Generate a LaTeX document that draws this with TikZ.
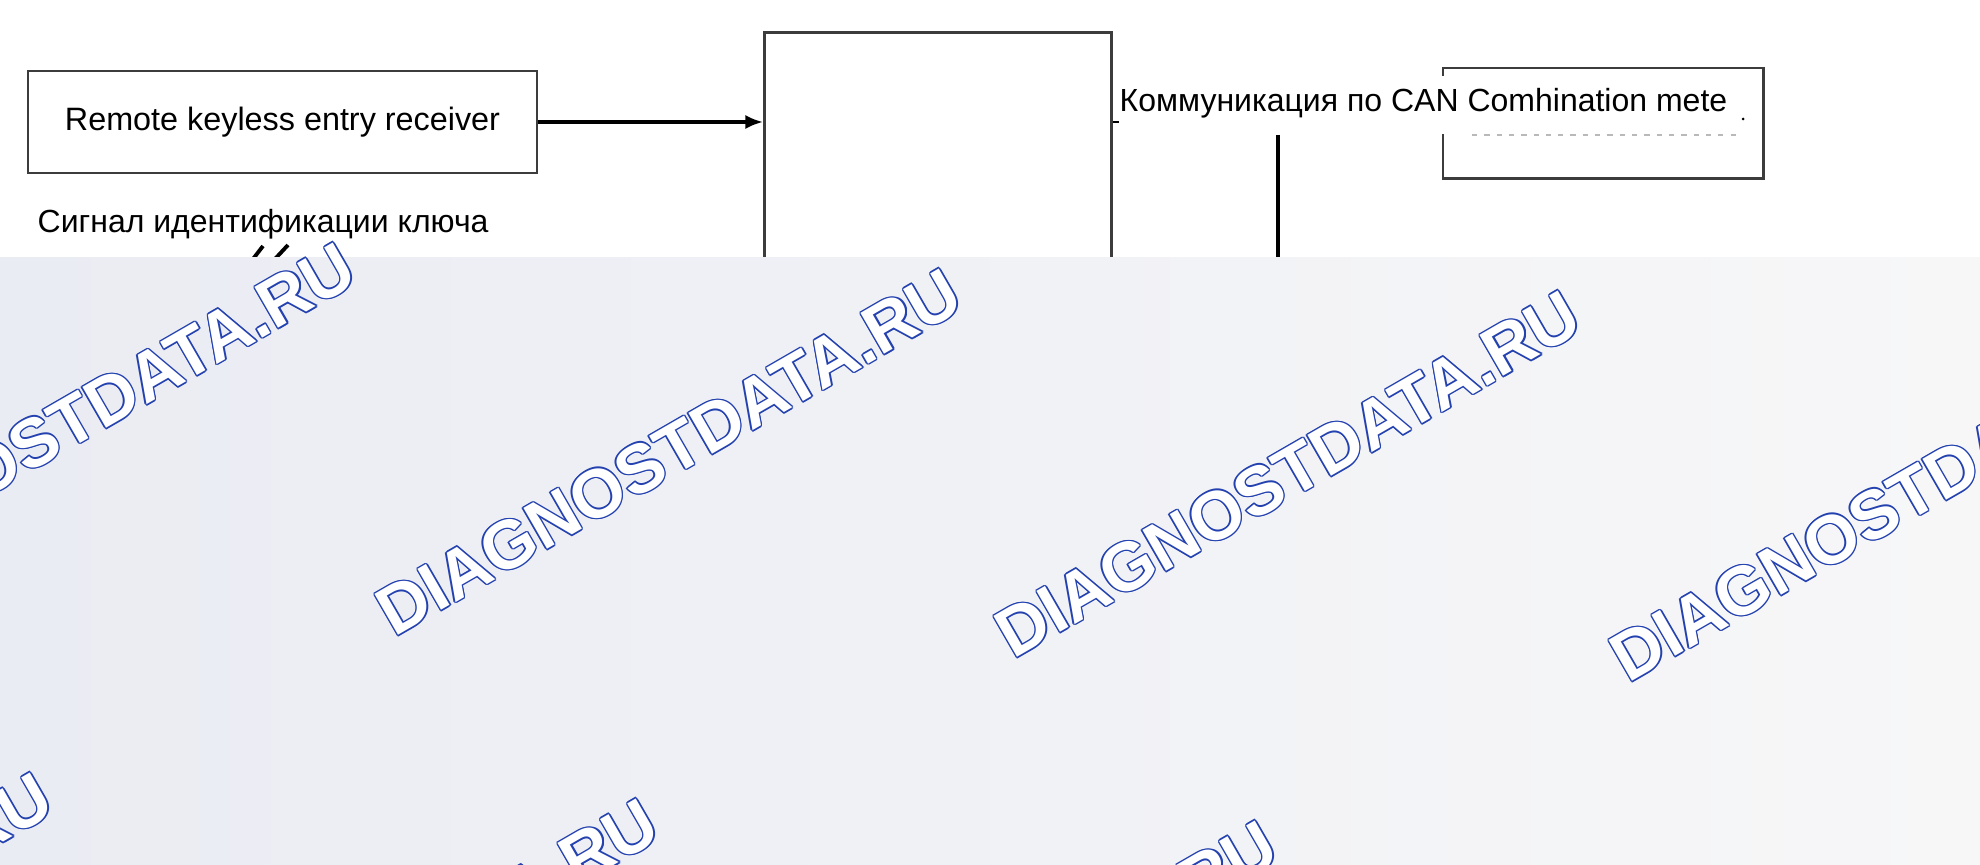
\documentclass[tikz,border=0pt]{standalone}
\usepackage{fontspec}
\setmainfont{Liberation Sans}
\usepackage{tikz}
\usetikzlibrary{positioning,arrows.meta}
\definecolor{boxline}{RGB}{60,60,60}
\definecolor{wmblue}{RGB}{35,65,175}
\definecolor{shadeA}{RGB}{234,236,243}
\definecolor{shadeB}{RGB}{247,247,248}
\tikzstyle{unit}=[draw=boxline,line width=0.75pt,inner sep=0pt,font=\fontsize{9.2}{10}\selectfont]
\tikzstyle{txt}=[inner sep=0pt,font=\fontsize{9.1}{10}\selectfont]
\tikzstyle{signal}=[line width=0.9pt,-{Latex[length=5pt,width=4pt]}]
\tikzstyle{bus}=[line width=1.2pt]
\tikzstyle{wmark}=[rotate=30,inner sep=0pt,font=\fontsize{19.5}{19.5}\selectfont\bfseries]
\newcommand{\stamp}[2]{%
  \foreach \a in {0,45,...,315}
    \node[wmark,text=wmblue] at ([shift={(\a:0.42pt)}]#1,#2) {DIAGNOSTDATA.RU};
  \node[wmark,text=white] at (#1,#2) {DIAGNOSTDATA.RU};}

\begin{document}
\begin{tikzpicture}[x=0.01cm,y=-0.01cm]
\useasboundingbox (0,0) rectangle (1980,864);
\clip (0,0) rectangle (1980,864);
\begin{scope}
    \node (rke) [unit,minimum width=5.09cm,minimum height=1.02cm] at (282.5,122) {Remote keyless entry receiver};
    \node (bcm) [unit,minimum width=3.47cm,minimum height=8.7cm,anchor=north west] at (763,31) {};
    \draw [signal] (rke) -- (bcm.west |- rke.east);
    \draw [line width=0.6pt] (bcm.east |- rke.east) -- ++(6,0);
    \node (meter) [minimum width=3.19cm,minimum height=1.09cm,inner sep=0pt,anchor=north west] at (1443,68) {};
    \draw [draw=boxline,line width=0.75pt] ([yshift=-0.08cm]meter.north west) -- (meter.north west) -- (meter.north east)
        -- (meter.south east) -- (meter.south west) -- ([yshift=0.44cm]meter.south west);
    \node (can) [txt,anchor=base west] at (1119,112) {Коммуникация по CAN Comhination mete};
    \fill (1743,119) circle (1.5);
    \draw [gray!55,line width=0.8pt,dash pattern=on 1.5pt off 2pt] (1472,135) -- (1739,135);
    \coordinate (busTop) at (1278,135);
    \coordinate (busEnd) at (1278,300);
    \draw [bus] (busTop) -- (busEnd);
    \node (keyid) [txt,anchor=base west] at (37,233) {Сигнал идентификации ключа};
    \draw [line width=1.1pt] (253,259) -- (263,246);
    \draw [line width=1.1pt] (275,259) -- (288,245);
\end{scope}
\shade [left color=shadeA,right color=shadeB] (0,258) rectangle (1980,864);
\stamp{63}{426}
\stamp{669}{452}
\stamp{1288}{474}
\stamp{1903}{498}
\stamp{-240}{956}
\stamp{366}{982}
\stamp{985}{1004}
\end{tikzpicture}
\end{document}
